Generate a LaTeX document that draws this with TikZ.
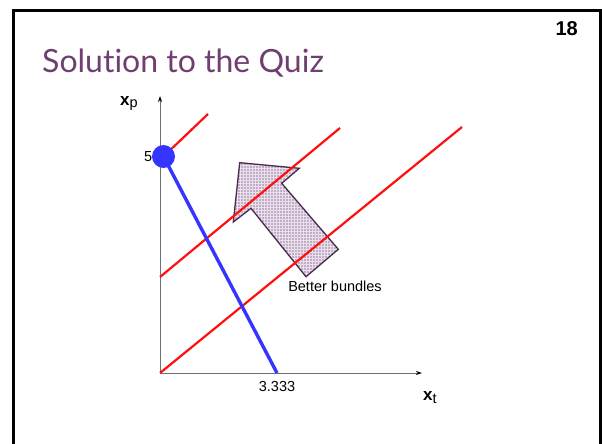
\documentclass[tikz,border=0pt]{standalone}
\usepackage{fontspec}
\setmainfont{Liberation Sans}
\newfontfamily\titlefont[Ligatures=NoCommon]{Lato}
\usetikzlibrary{arrows.meta,patterns}
\definecolor{ttl}{HTML}{6E3F70}
\definecolor{redl}{HTML}{FF1010}
\definecolor{bluel}{HTML}{3535FF}
\definecolor{arrfill}{HTML}{C2ACC7}
\definecolor{arrlight}{HTML}{E8E0EA}
\definecolor{arredge}{HTML}{4A2A4C}
\definecolor{axisc}{HTML}{707070}
\tikzset{
  axis/.style={draw=axisc, line width=1pt, -{Stealth[length=6pt,width=4pt,color=black]}},
  redline/.style={draw=redl, line width=2.2pt},
  blueline/.style={draw=bluel, line width=3.4pt},
  lbl/.style={inner sep=0pt, font=\fontsize{14.5}{16}\selectfont},
  axlbl/.style={inner sep=0pt, font=\fontsize{17}{19}\selectfont\bfseries},
}
\begin{document}
\begin{tikzpicture}[x=1pt,y=-1pt]
\useasboundingbox (0,0) rectangle (602,444);
\fill[white] (0,0) rectangle (602,444);
% frame
\draw[line width=3pt] (13.5,444) -- (13.5,11) -- (600,11) -- (600,444);
% title and page number
\node[anchor=base west, inner sep=0pt, text=ttl, font=\titlefont\fontsize{32}{34}\selectfont] (title) at (42,72) {Solution to the Quiz};
\node[anchor=base east, inner sep=0pt, font=\fontsize{20}{22}\selectfont\bfseries] (page) at (578,36) {18};
% coordinates
\coordinate (O) at (160,373);
\coordinate (ytop) at (160,96);
\coordinate (xtop) at (422,373);
\coordinate (A) at (277,373);
\coordinate (P) at (163.5,156.5);
\coordinate (r1e) at (462,127);
\coordinate (r2s) at (160,277);
\coordinate (r2e) at (340,128);
\coordinate (r3e) at (208,114);
% big arrow
\draw[arredge, line width=1.3pt, line join=miter, preaction={fill=arrfill}, pattern=grid, pattern color=arrlight]
  (239.7,162.7) -- (299.3,168.3) -- (281.7,183.3) -- (338.3,249.3) -- (306,276.7) -- (251,208.3) -- (233.3,222) -- cycle;
% axes
\draw[axis] (O) -- (ytop);
\draw[axis] (O) -- (xtop);
% red lines
\draw[redline] (O) -- (r1e);
\draw[redline] (r2s) -- (r2e);
\draw[redline] (P) -- (r3e);
% blue line and point
\draw[blueline] (P) -- (A);
\node[circle, fill=bluel, minimum size=23pt, inner sep=0pt] (pt) at (P) {};
% labels
\node[lbl, anchor=east] (five) at (152.5,157) {5};
\node[lbl] (val) at (277,387) {3.333};
\node[lbl] (better) at (335,286) {Better bundles};
\node[axlbl, anchor=base west] (xp) at (120,105) {x\textsubscript{\fontsize{14.5}{16}\selectfont\mdseries p}};
\node[axlbl, anchor=base west] (xt) at (423,400) {x\textsubscript{\fontsize{14.5}{16}\selectfont\mdseries t}};
\end{tikzpicture}
\end{document}
